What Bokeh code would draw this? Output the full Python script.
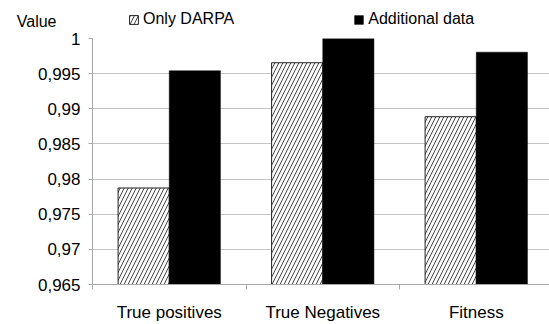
import numpy as np
from bokeh.plotting import figure
from bokeh.layouts import column
from bokeh.models import (Range1d, FixedTicker, CustomJSTickFormatter, Legend, LegendItem)
from bokeh.embed import file_html
from bokeh.resources import INLINE

categories = ["True positives", "True Negatives", "Fitness"]
only_darpa = [0.97873, 0.99655, 0.98887]
additional = [0.9954, 1.0, 0.99805]
y_ticks = [0.965, 0.97, 0.975, 0.98, 0.985, 0.99, 0.995, 1.0]
grid_ticks = [0.97, 0.975, 0.98, 0.985, 0.99, 0.995]
y_min, y_max = 0.965, 1.0
axis_title = "Value"

FONT = "Liberation Sans"
n = len(categories)
centers = np.arange(n) + 0.5
bw = 1.0 / 3.0

HATCH = dict(fill_color="white", line_color="#222222", line_width=1,
             hatch_pattern="/", hatch_color="#444444", hatch_scale=8, hatch_weight=1)
SOLID = dict(fill_color="black", line_color="black", line_width=0.5)

# ---------- header strip: axis title and legend ----------
top = figure(width=549, height=30, output_backend="svg", toolbar_location=None,
             x_range=Range1d(0, 1), y_range=Range1d(0, 30),
             x_axis_location=None, y_axis_location="left",
             min_border_left=92, min_border_right=0, min_border_top=0, min_border_bottom=0)
top.outline_line_color = None
top.xgrid.visible = False
top.ygrid.visible = False

ta = top.yaxis[0]
ta.ticker = FixedTicker(ticks=[8])
ta.major_label_overrides = {8: axis_title}
ta.axis_line_color = None
ta.major_tick_line_color = None
ta.minor_tick_line_color = None
ta.major_tick_out = 0
ta.major_tick_in = 0
ta.major_label_standoff = 36
ta.major_label_text_font = FONT
ta.major_label_text_font_size = "16px"
ta.major_label_text_color = "black"

# legend keys (no visible marks, only used for the legend swatches)
k1 = top.vbar(x=np.array([np.nan]), top=np.array([np.nan]), bottom=np.nan, width=0.1, **HATCH)
k2 = top.vbar(x=np.array([np.nan]), top=np.array([np.nan]), bottom=np.nan, width=0.1, **SOLID)

legend = Legend(items=[LegendItem(label="Only DARPA", renderers=[k1]),
                       LegendItem(label="Additional data", renderers=[k2])],
                orientation="horizontal", location=(36, 2),
                padding=0, margin=0, spacing=119, label_standoff=4,
                glyph_width=11, glyph_height=11,
                label_text_font=FONT, label_text_font_size="16px", label_text_color="black",
                border_line_color=None, background_fill_alpha=0)
top.add_layout(legend, "center")

# ---------- main chart ----------
p = figure(width=549, height=294, output_backend="svg", toolbar_location=None,
           x_range=Range1d(0, 2.977), y_range=Range1d(y_min, y_max),
           min_border_left=92, min_border_right=0, min_border_top=8, min_border_bottom=38)
p.outline_line_color = None

p.vbar(x=centers - bw / 2, top=only_darpa, bottom=y_min, width=bw, **HATCH)
p.vbar(x=centers + bw / 2, top=additional, bottom=y_min, width=bw, **SOLID)

p.xgrid.visible = False
p.ygrid.ticker = FixedTicker(ticks=grid_ticks)
p.ygrid.grid_line_color = "#c4c4c4"

ya = p.yaxis[0]
ya.ticker = FixedTicker(ticks=y_ticks)
ya.formatter = CustomJSTickFormatter(code="""
var s = tick.toFixed(3).replace(/0+$/, '').replace(/\\.$/, '');
return s.replace('.', ',');""")
ya.axis_line_color = "#a8a8a8"
ya.major_tick_line_color = "#a8a8a8"
ya.major_tick_out = 4
ya.major_tick_in = 0
ya.minor_tick_line_color = None
ya.major_label_text_font = FONT
ya.major_label_text_font_size = "17px"
ya.major_label_text_color = "black"
ya.major_label_standoff = 8

xa = p.xaxis[0]
xa.ticker = FixedTicker(ticks=list(centers), minor_ticks=list(range(n + 1)))
xa.major_label_overrides = {float(c): lab for c, lab in zip(centers, categories)}
xa.axis_line_color = "#a8a8a8"
xa.major_tick_line_color = None
xa.major_tick_out = 0
xa.major_tick_in = 0
xa.minor_tick_line_color = "#a8a8a8"
xa.minor_tick_out = 5
xa.minor_tick_in = 0
xa.major_label_text_font = FONT
xa.major_label_text_font_size = "17px"
xa.major_label_text_color = "black"
xa.major_label_standoff = 13

layout = column(top, p, spacing=0)
open("out.html", "w").write(file_html(layout, INLINE))
